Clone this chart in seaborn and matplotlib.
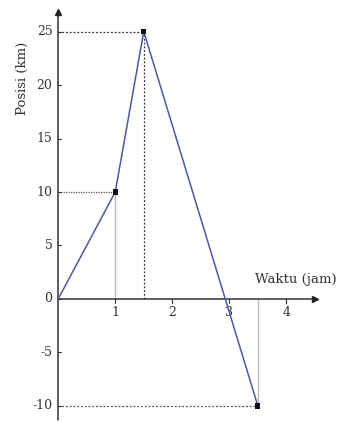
import matplotlib
matplotlib.use("Agg")
import matplotlib.pyplot as plt
import seaborn as sns
import pandas as pd

# Position of the object over time
waktu = [0, 1, 1.5, 3.5]
posisi = [0, 10, 25, -10]
y_ticks = [-10, -5, 0, 5, 10, 15, 20, 25]
x_ticks = [1, 2, 3, 4]

df = pd.DataFrame({"Waktu (jam)": waktu, "Posisi (km)": posisi})

sns.set_style("white")
plt.rcParams["font.family"] = ["DejaVu Serif"]

fig = plt.figure(figsize=(3.48, 4.22), dpi=100)
ax = fig.add_axes([0, 0, 1, 1])

ax.set_xlim(-1.02, 5.08)
ax.set_ylim(-11.5, 27.95)

# guide lines to the marked points
ax.plot([1, 1], [0, 10], color="#b8b8b8", lw=1.0, zorder=1)
ax.plot([0, 1], [10, 10], color="#555555", lw=0.9, ls=(0, (1, 1)), zorder=1)
ax.plot([1.5, 1.5], [0, 25], color="#333333", lw=0.9, ls=(0, (1.5, 1.5)), zorder=1)
ax.plot([0, 1.5], [25, 25], color="#333333", lw=0.9, ls=(0, (1.5, 1.5)), zorder=1)
ax.plot([3.5, 3.5], [0, -10], color="#b8b8b8", lw=1.0, zorder=1)
ax.plot([0, 3.5], [-10, -10], color="#555555", lw=0.9, ls=(0, (1.5, 1.5)), zorder=1)

# axes with arrows
ax.plot([0, 0], [-11.3, 26.8], color="#333333", lw=1.1, zorder=2)
ax.plot([0, 4.5], [0, 0], color="#333333", lw=1.1, zorder=2)
ax.plot([0], [26.8], marker="^", color="#222222", ms=4, zorder=3)
ax.plot([4.5], [0], marker=">", color="#222222", ms=4, zorder=3)

sns.lineplot(data=df, x="Waktu (jam)", y="Posisi (km)", ax=ax, color="#4d57a8",
             lw=1.1, sort=False, zorder=4)
sns.scatterplot(x=waktu[1:], y=posisi[1:], ax=ax, color="#111111", s=14,
                marker="s", edgecolor="none", zorder=5)

# tick marks and labels
for v in y_ticks:
    ax.plot([0, 0.05], [v, v], color="#333333", lw=0.8, zorder=2)
    ax.text(-0.1, v, str(v), ha="right", va="center", fontsize=9, color="#333333")
for v in x_ticks:
    ax.plot([v, v], [0, -0.4], color="#333333", lw=0.8, zorder=2)
    ax.text(v, -0.7, str(v), ha="center", va="top", fontsize=9, color="#333333")

ax.text(3.45, 1.8, "Waktu (jam)", ha="left", va="center", fontsize=9.5, color="#333333")
ax.text(-0.63, 20.6, "Posisi (km)", ha="center", va="center", rotation=90,
        fontsize=9.5, color="#333333")

ax.set_axis_off()
fig.savefig("out.png", dpi=100)
